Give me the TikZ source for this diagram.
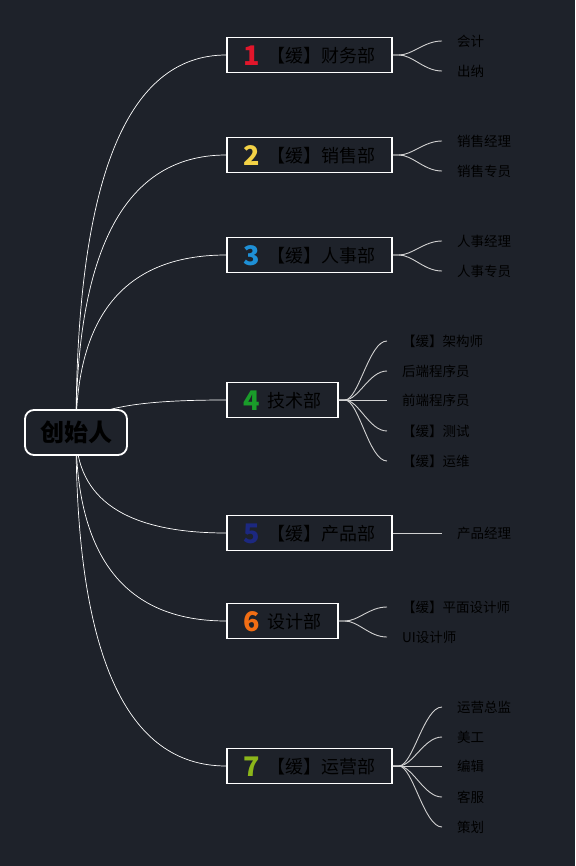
\documentclass[tikz,border=0pt]{standalone}
\usepackage{fontspec}
\setmainfont{Noto Sans CJK SC}
\usetikzlibrary{calc,backgrounds}
\definecolor{bg}{RGB}{30,34,42}
\definecolor{n1}{RGB}{226,22,43}
\definecolor{n2}{RGB}{243,210,70}
\definecolor{n3}{RGB}{30,144,214}
\definecolor{n4}{RGB}{26,156,42}
\definecolor{n5}{RGB}{28,40,128}
\definecolor{n6}{RGB}{242,110,20}
\definecolor{n7}{RGB}{140,182,26}
\newcommand\dnum[2]{\raisebox{-3pt}{\fontsize{27}{27}\selectfont\bfseries\color{#1}#2}\hspace{8pt}}
\tikzset{
  rootbox/.style={draw=white, line width=1.8pt, fill=bg, rounded corners=9pt,
    minimum width=102pt, minimum height=45pt, text=black,
    font=\fontsize{24}{26}\selectfont\bfseries},
  deptbox/.style={draw=white, line width=1.6pt, fill=bg, minimum height=35pt,
    inner xsep=0pt, text height=17pt, text depth=1.5pt, text=black,
    font=\fontsize{18}{20}\selectfont},
  wide/.style={minimum width=165pt},
  narrow/.style={minimum width=111pt},
  leaf/.style={anchor=west, inner xsep=15pt, inner ysep=1pt, text=black,
    font=\fontsize{13.5}{15}\selectfont},
  trunk/.style={draw=white, line width=0.7pt},
  twig/.style={draw=white!82!black, line width=0.9pt},
}
\newcommand\trunkto[1]{\draw[trunk] (root.center) .. controls ($(root.center)!.667!(root.center |- #1.west)$) and ($(#1.west)!.667!(root.center |- #1.west)$) .. (#1.west);}
\newcommand\twigto[2]{\draw[twig] (#1.east) -- ++(6,0) .. controls +(14,0) and +(-18,0) .. (#2.west);}
\begin{document}
\begin{tikzpicture}[x=1pt,y=-1pt]
\useasboundingbox (0,0) rectangle (575,866);
% nodes
\node[rootbox] (root) at (76,432.5) {创始人};
\node[deptbox,wide]   (d1) at (309.5,55)  {\dnum{n1}{1}【缓】财务部};
\node[deptbox,wide]   (d2) at (309.5,155) {\dnum{n2}{2}【缓】销售部};
\node[deptbox,wide]   (d3) at (309.5,255) {\dnum{n3}{3}【缓】人事部};
\node[deptbox,narrow] (d4) at (282.5,400) {\dnum{n4}{4}技术部};
\node[deptbox,wide]   (d5) at (309.5,533) {\dnum{n5}{5}【缓】产品部};
\node[deptbox,narrow] (d6) at (282.5,621) {\dnum{n6}{6}设计部};
\node[deptbox,wide]   (d7) at (309.5,766) {\dnum{n7}{7}【缓】运营部};
% leaves
\node[leaf] (l11) at (442,41) {会计};
\node[leaf] (l12) at (442,71) {出纳};
\node[leaf] (l21) at (442,141) {销售经理};
\node[leaf] (l22) at (442,171) {销售专员};
\node[leaf] (l31) at (442,241) {人事经理};
\node[leaf] (l32) at (442,271) {人事专员};
\node[leaf] (l41) at (387,341) {【缓】架构师};
\node[leaf] (l42) at (387,371) {后端程序员};
\node[leaf] (l43) at (387,400) {前端程序员};
\node[leaf] (l44) at (387,431) {【缓】测试};
\node[leaf] (l45) at (387,461) {【缓】运维};
\node[leaf] (l51) at (442,533) {产品经理};
\node[leaf] (l61) at (387,607) {【缓】平面设计师};
\node[leaf] (l62) at (387,637) {UI设计师};
\node[leaf] (l71) at (442,707) {运营总监};
\node[leaf] (l72) at (442,737) {美工};
\node[leaf] (l73) at (442,766) {编辑};
\node[leaf] (l74) at (442,797) {客服};
\node[leaf] (l75) at (442,827) {策划};
\begin{scope}[on background layer]
\fill[bg] (0,0) rectangle (575,866);
\trunkto{d1}\trunkto{d2}\trunkto{d3}
\draw[trunk] (root.center) .. controls ($(root.center)+(8,-28)$) and ($(d4.west)+(-70,0)$) .. (d4.west);
\trunkto{d5}\trunkto{d6}\trunkto{d7}
\end{scope}
\twigto{d1}{l11}\twigto{d1}{l12}
\twigto{d2}{l21}\twigto{d2}{l22}
\twigto{d3}{l31}\twigto{d3}{l32}
\twigto{d4}{l41}\twigto{d4}{l42}\draw[twig] (d4.east) -- (l43.west);\twigto{d4}{l44}\twigto{d4}{l45}
\draw[twig] (d5.east) -- (l51.west);
\twigto{d6}{l61}\twigto{d6}{l62}
\twigto{d7}{l71}\twigto{d7}{l72}\draw[twig] (d7.east) -- (l73.west);\twigto{d7}{l74}\twigto{d7}{l75}
\end{tikzpicture}
\end{document}
